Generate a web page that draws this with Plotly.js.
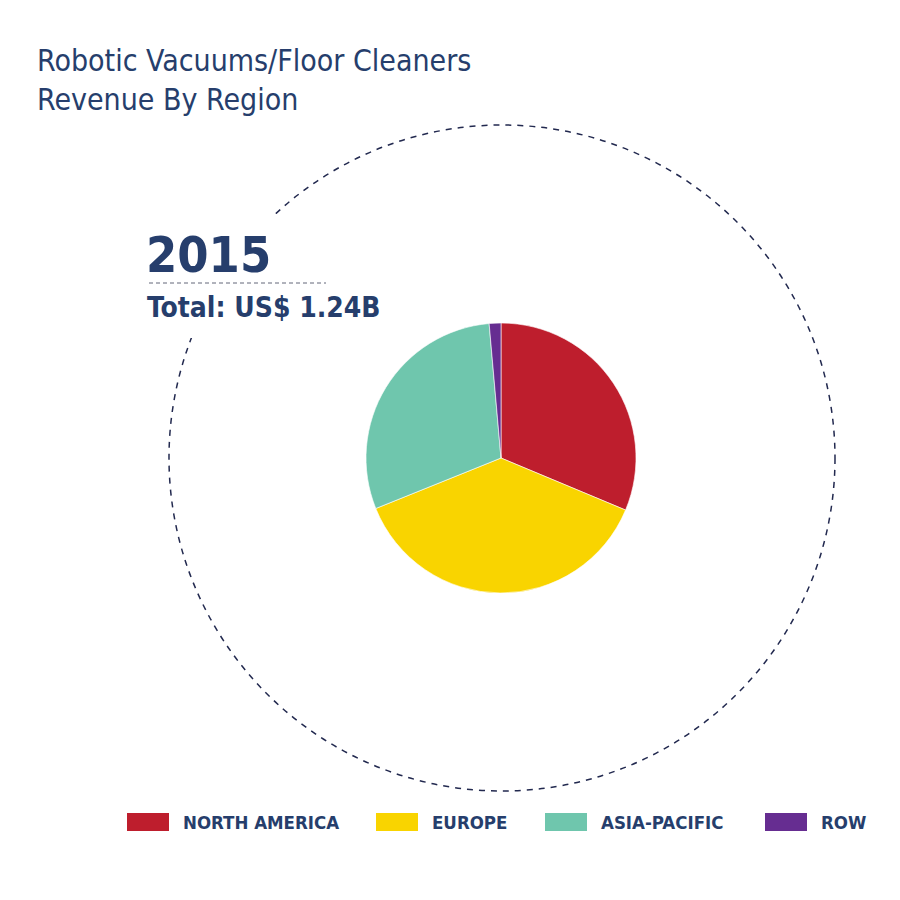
<!DOCTYPE html>
<html>
<head>
<meta charset="utf-8">
<script src="https://cdn.plot.ly/plotly-3.0.1.min.js"></script>
<style>html,body{margin:0;padding:0;background:#fff;}#chart{width:900px;height:900px;}</style>
</head>
<body>
<div id="chart"></div>
<script>
// Data
const regions = ["NORTH AMERICA", "EUROPE", "ASIA-PACIFIC", "ROW"];
const shares = [31.3, 37.6, 29.7, 1.4];
const colors = ["#BE1E2D", "#F9D400", "#6FC6AD", "#662D91"];
const titleLines = ["Robotic Vacuums/Floor Cleaners", "Revenue By Region"];
const yearLabel = "2015";
const totalLabel = "Total: US$ 1.24B";

const W = 900, H = 900;
const px = x => x / W;
const py = y => 1 - y / H;
const NAVY = "#263E6C";
const FONT = "'DejaVu Sans Condensed', 'Liberation Sans Narrow', 'Roboto', sans-serif";

// pie geometry (pixels)
const cx = 501, cy = 458, r = 135;
const R = 333;

const trace = {
  type: "pie",
  labels: regions,
  values: shares,
  sort: false,
  direction: "clockwise",
  rotation: 0,
  textinfo: "none",
  hoverinfo: "label+percent",
  marker: {colors: colors, line: {color: "#ffffff", width: 0.6}},
  domain: {x: [px(cx - r), px(cx + r)], y: [py(cy + r), py(cy - r)]},
  showlegend: false
};

const shapes = [
  {type: "circle", xref: "paper", yref: "paper",
   x0: px(cx + 1 - R), x1: px(cx + 1 + R), y0: py(cy + R), y1: py(cy - R),
   line: {color: "#22294F", width: 1.5, dash: "6px,6px"}, layer: "below"},
  // gap in the dashed circle behind the year label
  {type: "rect", xref: "paper", yref: "paper",
   x0: px(145), x1: px(385), y0: py(338), y1: py(214),
   line: {width: 0}, fillcolor: "#ffffff", layer: "below"},
  // dotted rule under year
  {type: "line", xref: "paper", yref: "paper",
   x0: px(149), x1: px(326), y0: py(283), y1: py(283),
   line: {color: "#3a3f55", width: 0.8, dash: "4px,3px"}}
];

const annotations = [
  {text: titleLines.join("<br>"), xref: "paper", yref: "paper", x: px(35), y: py(41),
   xanchor: "left", yanchor: "top", align: "left", showarrow: false,
   font: {family: FONT, size: 30, color: NAVY}},
  {text: "<b>" + yearLabel + "</b>", xref: "paper", yref: "paper", x: px(144), y: py(255),
   xanchor: "left", yanchor: "middle", align: "left", showarrow: false,
   font: {family: FONT, size: 50, color: NAVY}},
  {text: "<b>" + totalLabel + "</b>", xref: "paper", yref: "paper", x: px(145), y: py(307),
   xanchor: "left", yanchor: "middle", align: "left", showarrow: false,
   font: {family: FONT, size: 28, color: NAVY}}
];

// custom legend
const legendX = [127, 376, 545, 765];
regions.forEach((name, i) => {
  const x0 = legendX[i];
  shapes.push({type: "rect", xref: "paper", yref: "paper",
    x0: px(x0), x1: px(x0 + 42), y0: py(831), y1: py(813),
    line: {width: 0}, fillcolor: colors[i]});
  annotations.push({text: "<b>" + name + "</b>", xref: "paper", yref: "paper",
    x: px(x0 + 54), y: py(822), xanchor: "left", yanchor: "middle", showarrow: false,
    font: {family: FONT, size: 18.5, color: NAVY}});
});

const layout = {
  width: W, height: H,
  margin: {l: 0, r: 0, t: 0, b: 0},
  paper_bgcolor: "#ffffff",
  plot_bgcolor: "#ffffff",
  shapes: shapes,
  annotations: annotations,
  showlegend: false
};

Plotly.newPlot("chart", [trace], layout, {displayModeBar: false, staticPlot: true});
</script>
</body>
</html>
